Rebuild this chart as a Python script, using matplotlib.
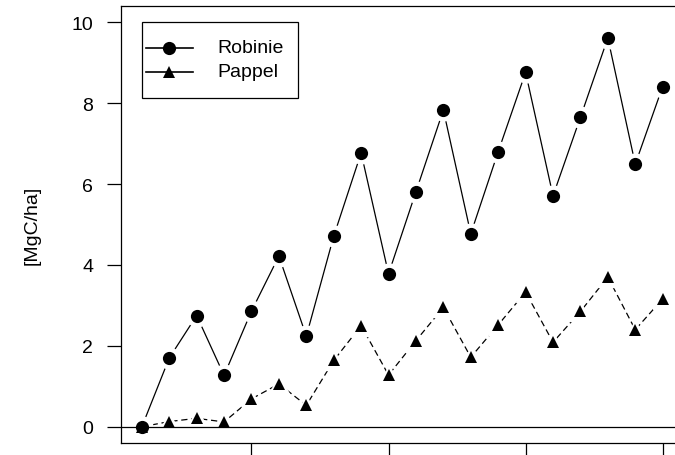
import numpy as np
import matplotlib
matplotlib.use("Agg")
import matplotlib.pyplot as plt
from matplotlib.patches import Rectangle

# Kohlenstoff-Vorrat je Umtriebsjahr
jahr = np.arange(1, 21)
robinie = [0.0, 1.70, 2.75, 1.27, 2.86, 4.22, 2.24, 4.71, 6.77, 3.78,
           5.81, 7.83, 4.77, 6.80, 8.76, 5.71, 7.65, 9.61, 6.49, 8.41]
pappel = [0.0, 0.13, 0.21, 0.12, 0.69, 1.06, 0.53, 1.64, 2.50, 1.28,
          2.13, 2.95, 1.72, 2.52, 3.33, 2.09, 2.85, 3.70, 2.40, 3.16]
serien = ["Robinie", "Pappel"]
yticks = [0, 2, 4, 6, 8, 10]
xticks = [5, 10, 15, 20]
ylabel = "[MgC/ha]"

plt.rcParams['font.family'] = ['Liberation Sans', 'DejaVu Sans']
fs = 14

fig = plt.figure(figsize=(6.75, 4.56), dpi=100)
ax = fig.add_axes([121 / 675, 12 / 456, 562.5 / 675, 437 / 456])

# Linien
ax.plot(jahr, robinie, '-', color='black', lw=0.9, zorder=2)
ax.plot(jahr, pappel, color='black', lw=0.9, ls=(0, (5, 3)), zorder=2)
# type="b": Luecke um die Punkte -> weisse Unterlage
ax.plot(jahr, robinie, 'o', ms=15, color='white', zorder=2.5)
ax.plot(jahr, pappel, '^', ms=14, color='white', zorder=2.5)
ax.axhline(0, color='black', lw=0.9, zorder=2.7)
# Punkte
ax.plot(jahr, pappel, '^', ms=8.8, color='black', mew=0, zorder=3)
ax.plot(jahr, robinie, 'o', ms=9.5, color='black', mew=0, zorder=3.1)

ax.set_xlim(0.24, 20.76)
ax.set_ylim(-0.4, 10.4)
ax.set_xticks(xticks)
ax.set_xticklabels([])
ax.set_yticks(yticks)
ax.tick_params(direction='out', length=10, width=0.9, labelsize=fs,
               pad=10, colors='black')
ax.set_ylabel(ylabel, fontsize=fs, labelpad=22)
for sp in ax.spines.values():
    sp.set_linewidth(0.9)

# Legende wie in R (Rahmen, Linie mit Symbol)
ax.add_patch(Rectangle((0.0373, 0.7895), 0.2774, 0.1739, transform=ax.transAxes,
                       fill=False, lw=0.9, ec='black', zorder=5))
for name, mk, yy in zip(serien, ['o', '^'], [0.9039, 0.849]):
    ax.plot([0.0444, 0.128], [yy, yy], transform=ax.transAxes, color='black',
            lw=1.2, zorder=5)
    ax.plot([0.0853], [yy], transform=ax.transAxes, marker=mk,
            ms=9.5 if mk == 'o' else 8, color='black', mew=0, zorder=6)
    ax.text(0.1707, yy, name, transform=ax.transAxes, fontsize=fs,
            va='center', ha='left', zorder=6)

fig.savefig("out.png", dpi=100)
